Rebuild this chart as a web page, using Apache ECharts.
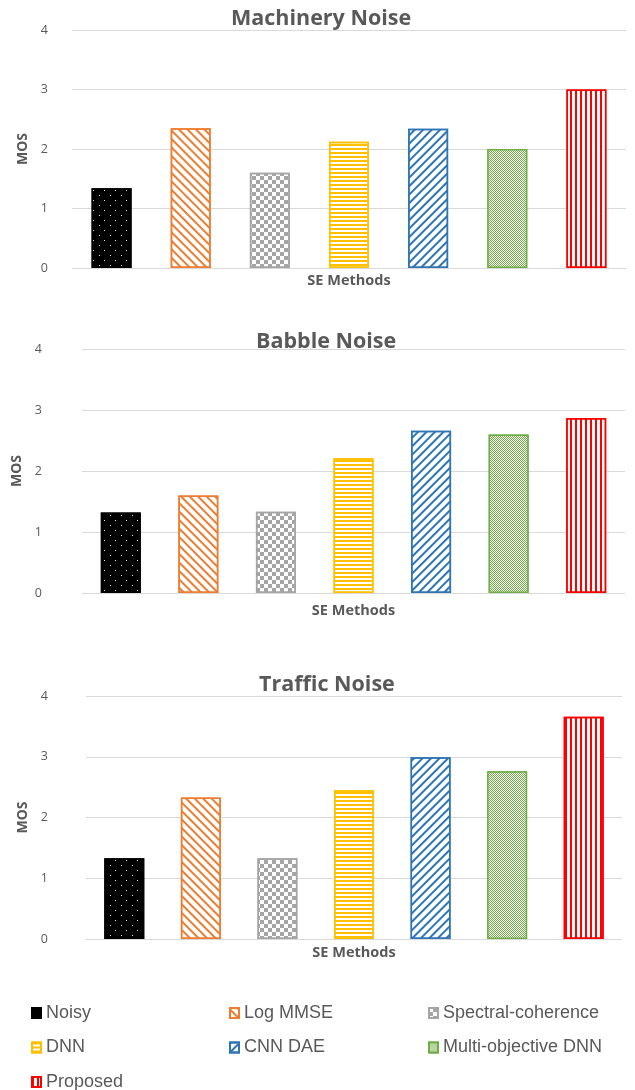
<!DOCTYPE html>
<html>
<head>
<meta charset="utf-8">
<title>MOS by SE method</title>
<style>
    html, body { margin: 0; padding: 0; background: #fff; }
    #main { width: 635px; height: 1090px; }
</style>
</head>
<body>
<div id="main"></div>
<script src="https://cdn.jsdelivr.net/npm/echarts@6/dist/echarts.min.js"></script>
<script>
    // data
    var methods = ['Noisy', 'Log MMSE', 'Spectral-coherence', 'DNN', 'CNN DAE', 'Multi-objective DNN', 'Proposed'];
    var machineryMOS = [1.34, 2.35, 1.6, 2.12, 2.34, 2.0, 3.0];
    var babbleMOS = [1.32, 1.6, 1.33, 2.21, 2.66, 2.6, 2.87];
    var trafficMOS = [1.33, 2.33, 1.33, 2.45, 2.99, 2.76, 3.66];
    var panelTitles = ['Machinery Noise', 'Babble Noise', 'Traffic Noise'];
    var panelValues = [machineryMOS, babbleMOS, trafficMOS];

    var textColor = '#595959';
    var gridColor = '#d9d9d9';
    var font = '"Open Sans", "DejaVu Sans", sans-serif';

    // fill patterns, one per method (Excel-like hatching)
    var looks = [
        { color: '#000', border: '#000',
          decal: { symbol: 'rect', symbolKeepAspect: false, color: '#e6e6e6',
                   dashArrayX: [[1, 10], [0, 5, 1, 5]], dashArrayY: [1, 4] } },
        { color: '#fff', border: '#ed7d31',
          decal: { symbol: 'rect', symbolKeepAspect: false, color: '#ed7d31',
                   dashArrayX: [10, 0], dashArrayY: [2, 4], rotation: Math.PI / 4 } },
        { color: '#fff', border: '#a5a5a5',
          decal: { symbol: 'rect', symbolKeepAspect: false, color: '#a5a5a5',
                   dashArrayX: [[4, 4], [0, 4, 4, 0]], dashArrayY: [4, 0] } },
        { color: '#fff', border: '#ffc000',
          decal: { symbol: 'rect', symbolKeepAspect: false, color: '#ffc000',
                   dashArrayX: [10, 0], dashArrayY: [2, 2] } },
        { color: '#fff', border: '#2e75b6',
          decal: { symbol: 'rect', symbolKeepAspect: false, color: '#2e75b6',
                   dashArrayX: [10, 0], dashArrayY: [2, 4], rotation: -Math.PI / 4 } },
        { color: '#70ad47', border: '#70ad47',
          decal: { symbol: 'rect', symbolKeepAspect: false, color: '#fff',
                   dashArrayX: [[1, 1], [0, 1, 1, 0]], dashArrayY: [1, 0] } },
        { color: '#fff', border: '#ff0000',
          decal: { symbol: 'rect', symbolKeepAspect: false, color: '#ff0000',
                   dashArrayX: [2, 3], dashArrayY: [10, 0] } }
    ];

    // plot boxes (match the Excel plot areas)
    var boxes = [
        { left: 72, top: 30, width: 554, height: 238, labelMargin: 24, nameGap: 37, xGap: 5, titleLeft: 231, titleTop: 8 },
        { left: 82, top: 349, width: 543, height: 244, labelMargin: 40, nameGap: 54, xGap: 10, titleLeft: 256, titleTop: 331 },
        { left: 86, top: 696, width: 536, height: 243, labelMargin: 38, nameGap: 52, xGap: 6, titleLeft: 259, titleTop: 674 }
    ];

    var grids = [], xAxes = [], yAxes = [], titles = [], series = [];
    boxes.forEach(function (b, k) {
        grids.push({ left: b.left, top: b.top, width: b.width, height: b.height });
        titles.push({
            text: panelTitles[k], left: b.titleLeft, top: b.titleTop, padding: 0,
            textStyle: { color: textColor, fontFamily: font, fontSize: 21.5, fontWeight: 'bold' }
        });
        xAxes.push({
            type: 'category', gridIndex: k, data: methods,
            axisLine: { show: false }, axisTick: { show: false }, axisLabel: { show: false },
            name: 'SE Methods', nameLocation: 'middle', nameGap: b.xGap,
            nameTextStyle: { color: textColor, fontFamily: font, fontSize: 14.5, fontWeight: 'bold' }
        });
        yAxes.push({
            type: 'value', gridIndex: k, min: 0, max: 4, interval: 1,
            axisLine: { show: false }, axisTick: { show: false },
            axisLabel: { color: textColor, fontFamily: font, fontSize: 12.5, margin: b.labelMargin },
            splitLine: { lineStyle: { color: gridColor, width: 1 } },
            name: 'MOS', nameLocation: 'middle', nameGap: b.nameGap, nameRotate: 90,
            nameTextStyle: { color: textColor, fontFamily: font, fontSize: 14, fontWeight: 'bold' }
        });
        var vals = panelValues[k];
        methods.forEach(function (m, i) {
            series.push({
                name: m, type: 'bar', xAxisIndex: k, yAxisIndex: k,
                barWidth: 40, barGap: '-100%',
                itemStyle: { color: looks[i].color, borderColor: looks[i].border, borderWidth: 1.5, decal: looks[i].decal },
                data: methods.map(function (c, j) { return j === i ? vals[i] : '-'; })
            });
        });
    });

    var legendText = { color: textColor, fontFamily: '"Liberation Sans", Arial, sans-serif', fontSize: 18 };
    function legendCol(names, left, top) {
        return {
            data: names, left: left, top: top, orient: 'vertical', padding: 0,
            itemGap: 16.5, itemWidth: 9, itemHeight: 10, icon: 'rect',
            selectedMode: false, textStyle: legendText
        };
    }

    var myChart = echarts.init(document.getElementById('main'));
    myChart.setOption({
        animation: false,
        backgroundColor: '#fff',
        title: titles,
        legend: [
            legendCol(['Noisy', 'DNN'], 31, 1004),
            legendCol(['Proposed'], 31, 1073),
            legendCol(['Log MMSE', 'CNN DAE'], 229, 1004),
            legendCol(['Spectral-coherence', 'Multi-objective DNN'], 428, 1004)
        ],
        grid: grids,
        xAxis: xAxes,
        yAxis: yAxes,
        series: series
    });
</script>
</body>
</html>
